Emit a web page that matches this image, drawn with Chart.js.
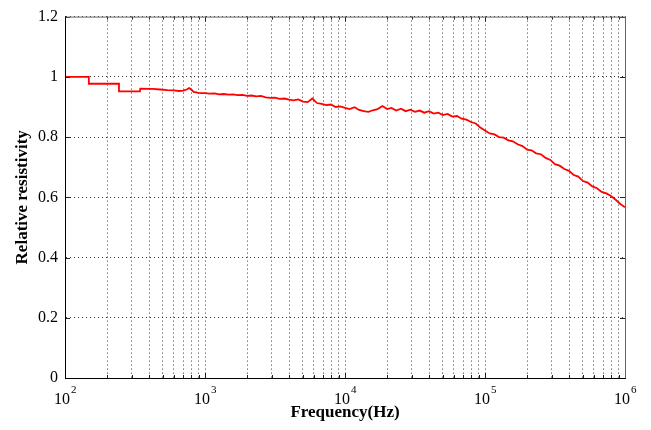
<!DOCTYPE html>
<html>
<head>
<meta charset="utf-8">
<script src="https://cdn.jsdelivr.net/npm/chart.js@4/dist/chart.umd.min.js"></script>
<style>
  html, body { margin: 0; padding: 0; background: #fff; }
  canvas { display: block; }
</style>
</head>
<body>
<canvas id="resChart" width="651" height="430"></canvas>
<script>
// frequency (Hz) / relative resistivity, one decade per pair
const f2 = [100, 148, 148, 243, 243, 343, 345, 420, 480, 540, 600, 650, 700, 740, 770, 800, 830, 900, 950];
const r2 = [1.0, 1.0, 0.977, 0.977, 0.952, 0.952, 0.961, 0.960, 0.958, 0.956, 0.955, 0.953, 0.954, 0.958, 0.963, 0.957, 0.950, 0.947, 0.946];

const f3 = [1000, 1080, 1170, 1260, 1360, 1470, 1580, 1710, 1850, 2000, 2150, 2320, 2510, 2710, 2930,
            3160, 3410, 3690, 3980, 4300, 4640, 5010, 5410, 5840, 6310, 6810, 7360, 7940, 8580, 9260];
const r3 = [0.946, 0.944, 0.945, 0.942, 0.943, 0.941, 0.942, 0.939, 0.940, 0.937, 0.938, 0.935, 0.937, 0.932, 0.930,
            0.931, 0.927, 0.928, 0.924, 0.922, 0.925, 0.918, 0.916, 0.928, 0.913, 0.910, 0.906, 0.908, 0.900, 0.902];

const f4 = [10000, 10800, 11700, 12600, 13600, 14700, 15800, 17100, 18500, 20000, 21500, 23200, 25100, 27100, 29300,
            31600, 34100, 36900, 39800, 43000, 46400, 50100, 54100, 58400, 63100, 68100, 73600, 79400, 85800, 92600];
const r4 = [0.897, 0.893, 0.899, 0.890, 0.886, 0.884, 0.889, 0.893, 0.903, 0.893, 0.897, 0.888, 0.894, 0.886, 0.891,
            0.884, 0.888, 0.881, 0.886, 0.878, 0.881, 0.873, 0.877, 0.868, 0.870, 0.861, 0.858, 0.850, 0.845, 0.832];

const f5 = [100000, 108000, 117000, 126000, 136000, 147000, 158000, 171000, 185000, 200000, 215000, 232000, 251000, 271000, 293000,
            316000, 341000, 369000, 398000, 430000, 464000, 501000, 541000, 584000, 631000, 681000, 736000, 794000, 858000, 926000, 1000000];
const r5 = [0.822, 0.812, 0.809, 0.800, 0.798, 0.789, 0.786, 0.776, 0.770, 0.758, 0.756, 0.746, 0.743, 0.731, 0.724,
            0.710, 0.705, 0.694, 0.688, 0.674, 0.669, 0.654, 0.649, 0.636, 0.630, 0.618, 0.613, 0.604, 0.592, 0.578, 0.567];

// axis ticks
const xDecades = [100, 1000, 10000, 100000, 1000000];
const xDecadeExp = ['2', '3', '4', '5', '6'];
const yTicks = [0, 0.2, 0.4, 0.6, 0.8, 1, 1.2];

const SERIF = '"Liberation Serif", "DejaVu Serif", serif';

const freqs = [].concat(f2, f3, f4, f5);
const values = [].concat(r2, r3, r4, r5);
const points = freqs.map((f, i) => ({ x: f, y: values[i] }));

// grid lines at 1..9 x every decade
const xGrid = [];
for (let d = 0; d < xDecades.length - 1; d++) {
  for (let m = 1; m < 10; m++) xGrid.push(xDecades[d] * m);
}
xGrid.push(xDecades[xDecades.length - 1]);

// box, inward ticks and the 10^n labels
const framePlugin = {
  id: 'frame',
  afterDraw(chart) {
    const { ctx, chartArea: a, scales: { x, y } } = chart;
    ctx.save();
    ctx.lineWidth = 1;

    // inward tick marks
    ctx.strokeStyle = '#222';
    ctx.beginPath();
    xGrid.forEach(v => {
      const px = Math.round(x.getPixelForValue(v)) + 0.5;
      const len = xDecades.includes(v) ? 5 : 3;
      ctx.moveTo(px, a.top); ctx.lineTo(px, a.top + len);
      ctx.moveTo(px, a.bottom); ctx.lineTo(px, a.bottom - len);
    });
    yTicks.forEach(v => {
      const py = Math.round(y.getPixelForValue(v)) + 0.5;
      ctx.moveTo(a.left, py); ctx.lineTo(a.left + 5, py);
      ctx.moveTo(a.right, py); ctx.lineTo(a.right - 5, py);
    });
    ctx.stroke();

    // frame
    ctx.strokeStyle = '#666';
    ctx.beginPath();
    ctx.moveTo(a.left + 0.5, a.top + 0.5);
    ctx.lineTo(a.right + 0.5, a.top + 0.5);
    ctx.lineTo(a.right + 0.5, a.bottom + 0.5);
    ctx.stroke();
    ctx.strokeStyle = '#000';
    ctx.beginPath();
    ctx.moveTo(a.left + 0.5, a.top + 0.5);
    ctx.lineTo(a.left + 0.5, a.bottom + 0.5);
    ctx.lineTo(a.right + 0.5, a.bottom + 0.5);
    ctx.stroke();

    // decade labels
    ctx.fillStyle = '#000';
    ctx.textBaseline = 'alphabetic';
    xDecades.forEach((v, i) => {
      const px = x.getPixelForValue(v);
      ctx.font = '16px ' + SERIF;
      ctx.textAlign = 'center';
      ctx.fillText('10', px - 3, 404);
      ctx.font = '11px ' + SERIF;
      ctx.textAlign = 'left';
      ctx.fillText(xDecadeExp[i], px + 6, 393);
    });
    ctx.restore();
  }
};

new Chart(document.getElementById('resChart'), {
  type: 'line',
  data: {
    datasets: [{
      data: points,
      borderColor: '#ff0000',
      borderWidth: 1.8,
      pointRadius: 0,
      tension: 0,
      fill: false
    }]
  },
  options: {
    responsive: false,
    animation: false,
    devicePixelRatio: 1,
    layout: { padding: { top: 13, right: 26, bottom: 0, left: 0 } },
    plugins: {
      legend: { display: false },
      tooltip: { enabled: false }
    },
    scales: {
      x: {
        type: 'logarithmic',
        min: 100,
        max: 1000000,
        afterBuildTicks: (scale) => { scale.ticks = xGrid.map(v => ({ value: v })); },
        afterFit: (scale) => { scale.height = 52; },
        ticks: { display: false },
        grid: { color: '#333', lineWidth: 1, drawTicks: false },
        border: { display: true, color: '#000', dash: [1, 3] },
        title: {
          display: true,
          text: 'Frequency(Hz)',
          color: '#000',
          font: { family: SERIF, size: 17, weight: 'bold' },
          padding: { top: 0, bottom: 7 }
        }
      },
      y: {
        min: 0,
        max: 1.2,
        afterBuildTicks: (scale) => { scale.ticks = yTicks.map(v => ({ value: v })); },
        afterFit: (scale) => { scale.width = 65; },
        ticks: {
          color: '#000',
          padding: 7,
          font: { family: SERIF, size: 16 },
          callback: (v) => String(Math.round(v * 10) / 10)
        },
        grid: { color: '#333', lineWidth: 1, drawTicks: false },
        border: { display: true, color: '#000', dash: [1, 3] },
        title: {
          display: true,
          text: 'Relative resistivity',
          color: '#000',
          font: { family: SERIF, size: 17, weight: 'bold' },
          padding: { top: 12, bottom: 0 }
        }
      }
    }
  },
  plugins: [framePlugin]
});
</script>
</body>
</html>
